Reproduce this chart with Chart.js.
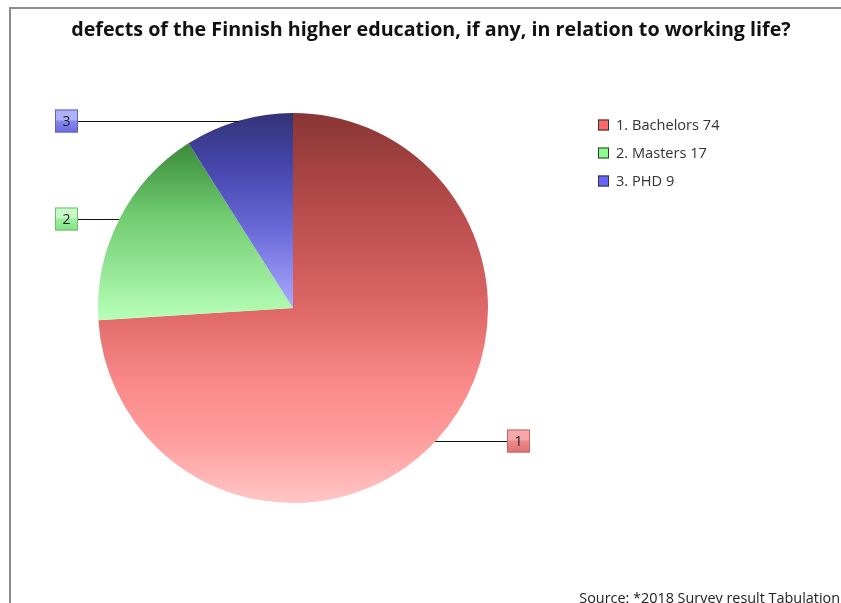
<!DOCTYPE html>
<html>
<head>
<meta charset="utf-8">
<script src="https://cdn.jsdelivr.net/npm/chart.js@4.4.1/dist/chart.umd.min.js"></script>
<style>
  html, body { margin: 0; padding: 0; background: #fff; }
  #wrap { position: relative; width: 841px; height: 603px; overflow: hidden; }
  #frame { position: absolute; left: 9px; top: 7px; right: -5px; bottom: -5px;
           border-top: 2px solid #8c8c8c; border-left: 2px solid #8c8c8c; }
  canvas { position: absolute; left: 0; top: 0; }
</style>
</head>
<body>
<div id="wrap">
  <div id="frame"></div>
  <canvas id="c" width="841" height="603"></canvas>
</div>
<script>
const titleText = "defects of the Finnish higher education, if any, in relation to working life?";
const sourceText = "Source: *2018 Survey result Tabulation";
const categories = ["Bachelors", "Masters", "PHD"];
const values = [74, 17, 9];
const pointLabels = ["1", "2", "3"];

const gradStops = [
  [[0, "#8a3535"], [0.25, "#b84c4c"], [0.48, "#db6464"], [0.7, "#fb8a8a"], [0.84, "#ff9d9d"], [1, "#ffc6c6"]],
  [[0, "#3a8a3a"], [0.4, "#6fcb6f"], [1, "#b8ffb8"]],
  [[0, "#333378"], [0.3, "#4848b0"], [0.6, "#6a6ad8"], [1, "#aaaaff"]]
];
const legendColors = ["#ff6666", "#88ff88", "#6666ff"];
const boxColors = [
  {top: "#f4a8a8", mid: "#ec8a8a", bot: "#e07070", border: "#c86464"},
  {top: "#c8f8c8", mid: "#9ef09e", bot: "#86e086", border: "#6cc06c"},
  {top: "#b0b0f8", mid: "#8888f0", bot: "#6a6ae0", border: "#6060c0"}
];

function sliceGradient(context) {
  const chart = context.chart;
  const area = chart.chartArea;
  const i = context.dataIndex;
  if (!area) return legendColors[i];
  const cx = (area.left + area.right) / 2;
  const cy = (area.top + area.bottom) / 2;
  const r = Math.min(area.right - area.left, area.bottom - area.top) / 2;
  const total = values.reduce((a, b) => a + b, 0);
  let start = 0;
  for (let k = 0; k < i; k++) start += values[k] / total * Math.PI * 2;
  const end = start + values[i] / total * Math.PI * 2;
  const ys = [cy, cy - r * Math.cos(start), cy - r * Math.cos(end)];
  for (const a of [0, Math.PI, Math.PI * 2]) {
    if (a >= start - 1e-9 && a <= end + 1e-9) ys.push(cy - r * Math.cos(a));
  }
  const y0 = Math.min(...ys), y1 = Math.max(...ys);
  const g = chart.ctx.createLinearGradient(0, y0, 0, y1);
  for (const [o, c] of gradStops[i]) g.addColorStop(o, c);
  return g;
}

const decorPlugin = {
  id: "decor",
  afterDraw(chart) {
    const ctx = chart.ctx;
    const meta = chart.getDatasetMeta(0);
    ctx.save();
    // title
    ctx.fillStyle = "#111";
    ctx.font = "bold 19.7px 'Open Sans'";
    ctx.textAlign = "center";
    ctx.textBaseline = "middle";
    ctx.fillText(titleText, 431, 30);

    // point labels with leader lines
    meta.data.forEach((arc, i) => {
      const p = arc.getProps(["x", "y", "startAngle", "endAngle", "outerRadius"], true);
      const mid = (p.startAngle + p.endAngle) / 2;
      const ex = p.x + Math.cos(mid) * p.outerRadius;
      const ey = p.y + Math.sin(mid) * p.outerRadius;
      const right = Math.cos(mid) > 0;
      const bw = 23, bh = 23;
      const bx = right ? 507 : 55;
      const by = Math.round(ey) - 11.5;
      ctx.strokeStyle = "#111";
      ctx.lineWidth = 1;
      ctx.beginPath();
      const ly = Math.round(ey) + 0.5;
      ctx.moveTo(ex, ly);
      ctx.lineTo(right ? bx : bx + bw, ly);
      ctx.stroke();
      const c = boxColors[i];
      const g = ctx.createLinearGradient(0, by, 0, by + bh);
      g.addColorStop(0, c.top);
      g.addColorStop(0.45, c.top);
      g.addColorStop(0.5, c.mid);
      g.addColorStop(1, c.bot);
      ctx.fillStyle = g;
      ctx.fillRect(bx, by, bw, bh);
      ctx.strokeStyle = c.border;
      ctx.strokeRect(bx + 0.5, by + 0.5, bw - 1, bh - 1);
      ctx.fillStyle = "#222";
      ctx.font = "14px 'Open Sans'";
      ctx.textAlign = "center";
      ctx.textBaseline = "middle";
      ctx.fillText(pointLabels[i], bx + bw / 2, by + bh / 2 + 1);
    });

    // legend
    ctx.font = "14.6px 'Open Sans'";
    ctx.textAlign = "left";
    ctx.textBaseline = "middle";
    categories.forEach((name, i) => {
      const y = 125 + i * 28;
      ctx.fillStyle = legendColors[i];
      ctx.fillRect(598, y - 5.5, 11, 11);
      ctx.strokeStyle = "#333";
      ctx.lineWidth = 1;
      ctx.strokeRect(598.5, y - 5, 10, 10);
      ctx.fillStyle = "#333";
      ctx.fillText((i + 1) + ". " + name + " " + values[i], 616, y + 1);
    });

    // source
    ctx.textAlign = "right";
    ctx.textBaseline = "alphabetic";
    ctx.fillStyle = "#222";
    ctx.font = "14.4px 'Open Sans'";
    ctx.fillText(sourceText, 840, 603);
    ctx.restore();
  }
};

new Chart(document.getElementById("c"), {
  type: "pie",
  data: {
    labels: categories.map((n, i) => (i + 1) + ". " + n + " " + values[i]),
    datasets: [{
      data: values,
      backgroundColor: sliceGradient,
      borderWidth: 0,
      hoverOffset: 0
    }]
  },
  options: {
    responsive: false,
    animation: false,
    layout: { padding: { left: 98, top: 113, right: 353, bottom: 100 } },
    plugins: {
      legend: { display: false },
      title: { display: false },
      tooltip: { enabled: false }
    }
  },
  plugins: [decorPlugin]
});
</script>
</body>
</html>
